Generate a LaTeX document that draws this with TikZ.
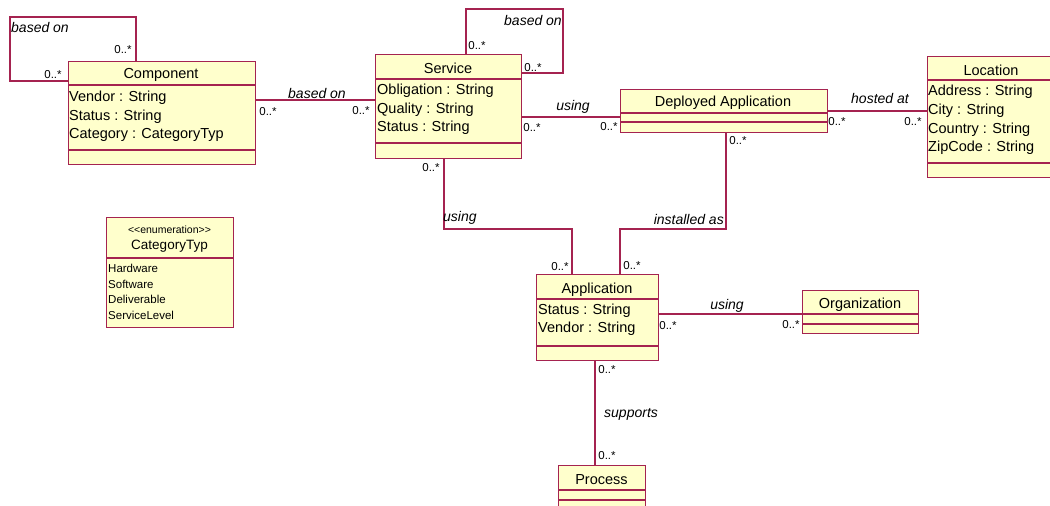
\documentclass[tikz,border=0pt]{standalone}
\usepackage{fontspec}
\setmainfont{Liberation Sans}
\begin{document}
\definecolor{umlline}{RGB}{165,35,80}
\definecolor{umlfill}{RGB}{255,255,204}
\begin{tikzpicture}[x=1pt,y=-1pt,
  cls/.style={draw=umlline,fill=umlfill,line width=1.25pt,anchor=north west,inner sep=0pt},
  sep/.style={draw=umlline,line width=1.25pt},
  assoc/.style={draw=umlline,line width=1.25pt},
  txt/.style={inner sep=0pt,yshift=-1.5pt},
  cname/.style={txt,font=\fontsize{14.5}{16}\selectfont},
  attr/.style={txt,anchor=west,font=\fontsize{14.5}{16}\selectfont},
  rel/.style={txt,font=\fontsize{14}{16}\selectfont\itshape},
  mult/.style={txt,font=\fontsize{11.5}{13}\selectfont},
  enumitem/.style={txt,anchor=west,font=\fontsize{11.5}{13}\selectfont},
]
\useasboundingbox (0,0) rectangle (1050,506);
\begin{scope}
\clip (0,0) rectangle (1050,506);

% ---------- classes ----------
\node[cls,minimum width=187pt,minimum height=103pt] (comp) at (68,61) {};
\draw[sep] (68,85) -- (255,85) (68,150) -- (255,150);
\node[cname] (compT) at (161,73) {Component};
\node[attr] (compA1) at (69,96) {Vendor : String};
\node[attr] (compA2) at (69,115) {Status : String};
\node[attr] (compA3) at (69,133) {Category : CategoryTyp};

\node[cls,minimum width=146pt,minimum height=104pt] (serv) at (375,54) {};
\draw[sep] (375,79) -- (521,79) (375,143) -- (521,143);
\node[cname] (servT) at (448,67) {Service};
\node[attr] (servA1) at (377,89) {Obligation : String};
\node[attr] (servA2) at (377,108) {Quality : String};
\node[attr] (servA3) at (377,126) {Status : String};

\node[cls,minimum width=207pt,minimum height=43pt] (dep) at (620,89) {};
\draw[sep] (620,113) -- (827,113) (620,122) -- (827,122);
\node[cname] (depT) at (723,101) {Deployed Application};

\node[cls,minimum width=130pt,minimum height=121pt] (loc) at (927,56) {};
\draw[sep] (927,80) -- (1057,80) (927,163) -- (1057,163);
\node[cname] (locT) at (991,69) {Location};
\node[attr] (locA1) at (928,90) {Address : String};
\node[attr] (locA2) at (928,109) {City : String};
\node[attr] (locA3) at (928,128) {Country : String};
\node[attr] (locA4) at (928,146) {ZipCode : String};

\node[cls,minimum width=127pt,minimum height=110pt] (enum) at (106,217) {};
\draw[sep] (106,258) -- (233,258);
\node[txt,font=\fontsize{10.5}{12}\selectfont] (enumS) at (169.5,228) {{<}{<}enumeration{>}{>}};
\node[cname,font=\fontsize{13.5}{16}\selectfont] (enumT) at (169.5,245) {CategoryTyp};
\node[enumitem] (enum1) at (108,267) {Hardware};
\node[enumitem] (enum2) at (108,283) {Software};
\node[enumitem] (enum3) at (108,298) {Deliverable};
\node[enumitem] (enum4) at (108,314) {ServiceLevel};

\node[cls,minimum width=122pt,minimum height=86pt] (app) at (536,274) {};
\draw[sep] (536,299) -- (658,299) (536,346) -- (658,346);
\node[cname] (appT) at (597,288) {Application};
\node[attr] (appA1) at (538,309) {Status : String};
\node[attr] (appA2) at (538,327) {Vendor : String};

\node[cls,minimum width=116pt,minimum height=43pt] (org) at (802,290) {};
\draw[sep] (802,314) -- (918,314) (802,324) -- (918,324);
\node[cname] (orgT) at (860,303) {Organization};

\node[cls,minimum width=87pt,minimum height=50pt] (proc) at (558,465) {};
\draw[sep] (558,490) -- (645,490) (558,500) -- (645,500);
\node[cname] (procT) at (601.5,478) {Process};

% ---------- connector corners ----------
\coordinate (cl1) at (136,17);
\coordinate (cl2) at (10,81);
\coordinate (sl1) at (466,9);
\coordinate (sl2) at (563,73);
\coordinate (su1) at (444,229);
\coordinate (su2) at (572,229);
\coordinate (ia1) at (726,229);
\coordinate (ia2) at (620,229);
\coordinate (hp) at (0,100);
\coordinate (hu) at (0,117);
\coordinate (hh) at (0,111);
\coordinate (ho) at (0,314);
\coordinate (vs) at (595,0);

% ---------- associations ----------
\draw[assoc] (comp.north -| cl1) -- (cl1) -| (cl2) -- (comp.west |- cl2);
\draw[assoc] (comp.east |- hp) -- (serv.west |- hp);
\draw[assoc] (serv.north -| sl1) -- (sl1) -| (sl2) -- (serv.east |- sl2);
\draw[assoc] (serv.east |- hu) -- (dep.west |- hu);
\draw[assoc] (dep.east |- hh) -- (loc.west |- hh);
\draw[assoc] (serv.south -| su1) -- (su1) -- (su2) -- (app.north -| su2);
\draw[assoc] (dep.south -| ia1) -- (ia1) -- (ia2) -- (app.north -| ia2);
\draw[assoc] (app.east |- ho) -- (org.west |- ho);
\draw[assoc] (app.south -| vs) -- (proc.north -| vs);

% ---------- association labels ----------
\node[rel,anchor=west] (lb1) at (11,26) {based on};
\node[mult] (m1) at (123,48) {0..*};
\node[mult] (m2) at (53,73) {0..*};

\node[rel] (lb2) at (317,92) {based on};
\node[mult] (m3) at (268,110) {0..*};
\node[mult] (m4) at (361,109) {0..*};

\node[rel,anchor=east] (lb3) at (562,19) {based on};
\node[mult] (m5) at (477,44) {0..*};
\node[mult] (m6) at (533,66) {0..*};

\node[rel] (lb4) at (573,105) {using};
\node[mult] (m7) at (532,126) {0..*};
\node[mult] (m8) at (609,125) {0..*};

\node[rel] (lb5) at (880,97) {hosted at};
\node[mult] (m9) at (837,120) {0..*};
\node[mult] (m10) at (913,120) {0..*};

\node[rel,anchor=west] (lb6) at (443,216) {using};
\node[mult] (m11) at (431,166) {0..*};
\node[mult] (m12) at (560,265) {0..*};

\node[rel,anchor=east] (lb7) at (724,218) {installed as};
\node[mult] (m13) at (738,139) {0..*};
\node[mult] (m14) at (632,264) {0..*};

\node[rel] (lb8) at (727,304) {using};
\node[mult] (m15) at (668,324) {0..*};
\node[mult] (m16) at (791,323) {0..*};

\node[rel,anchor=west] (lb9) at (604,413) {supports};
\node[mult] (m17) at (607,368) {0..*};
\node[mult] (m18) at (607,454) {0..*};
\end{scope}
\end{tikzpicture}
\end{document}
